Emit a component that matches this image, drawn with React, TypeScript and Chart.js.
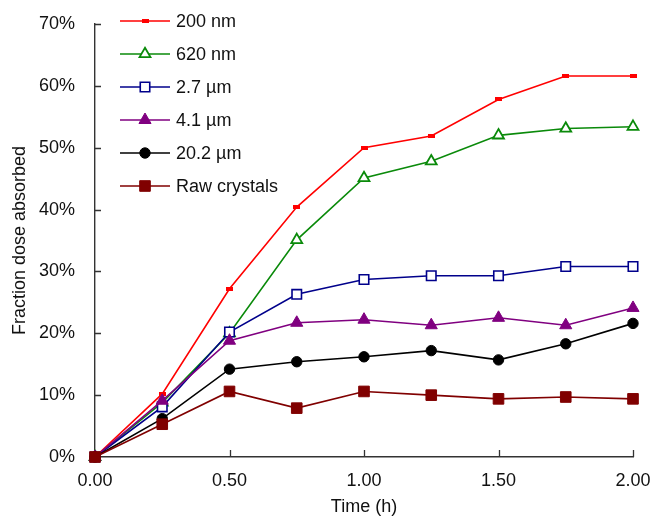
import { useEffect, useRef } from 'react';
import { Chart, registerables } from 'chart.js';
import { drawPoint } from 'chart.js/helpers';

Chart.register(...registerables);

// ---- data ----
const times = [0, 0.25, 0.5, 0.75, 1.0, 1.25, 1.5, 1.75, 2.0];
const seriesNames = ['200 nm', '620 nm', '2.7 µm', '4.1 µm', '20.2 µm', 'Raw crystals'];
const nm200 = [0, 10.2, 27.2, 40.4, 50.0, 51.9, 57.8, 61.6, 61.6];
const nm620 = [0, 8.8, 20.0, 35.1, 45.1, 47.8, 52.0, 53.1, 53.4];
const um2_7 = [0, 8.1, 20.2, 26.3, 28.7, 29.3, 29.3, 30.8, 30.8];
const um4_1 = [0, 9.1, 18.8, 21.7, 22.2, 21.3, 22.5, 21.3, 24.1];
const um20_2 = [0, 6.2, 14.2, 15.4, 16.2, 17.2, 15.7, 18.3, 21.6];
const rawCrystals = [0, 5.3, 10.6, 7.9, 10.6, 10.0, 9.4, 9.7, 9.4];
const seriesValues = [nm200, nm620, um2_7, um4_1, um20_2, rawCrystals];
const xTickValues = [0, 0.5, 1.0, 1.5, 2.0];
const yTickValues = [0, 10, 20, 30, 40, 50, 60, 70];

const FONT = '"Liberation Sans", Arial, Helvetica, sans-serif';

function makeDash(color: string) {
  const c = document.createElement('canvas');
  c.width = 7;
  c.height = 4;
  const g = c.getContext('2d')!;
  g.fillStyle = color;
  g.fillRect(0, 0, 7, 4);
  return c;
}

const tickMarks = {
  id: 'tickMarks',
  beforeDatasetsDraw(chart: any) {
    const { ctx, chartArea: a, scales } = chart;
    ctx.save();
    ctx.strokeStyle = '#333';
    ctx.lineWidth = 1.3;
    ctx.beginPath();
    scales.x.ticks.forEach((t: any) => {
      const px = Math.round(scales.x.getPixelForValue(t.value)) + 0.5;
      ctx.moveTo(px, a.bottom);
      ctx.lineTo(px, a.bottom - 7);
    });
    scales.y.ticks.forEach((t: any) => {
      const py = Math.round(scales.y.getPixelForValue(t.value)) + 0.5;
      ctx.moveTo(a.left, py);
      ctx.lineTo(a.left + 6, py);
    });
    ctx.stroke();
    ctx.restore();
  },
};

const insideLegend = {
  id: 'insideLegend',
  afterDraw(chart: any) {
    const { ctx, chartArea: a } = chart;
    chart.data.datasets.forEach((ds: any, i: number) => {
      const y = 21 + i * 33;
      const x0 = a.left + 25;
      ctx.save();
      ctx.strokeStyle = ds.borderColor;
      ctx.lineWidth = ds.borderWidth;
      ctx.beginPath();
      ctx.moveTo(x0, y);
      ctx.lineTo(x0 + 50, y);
      ctx.stroke();
      ctx.fillStyle = ds.pointBackgroundColor;
      ctx.strokeStyle = ds.pointBorderColor;
      ctx.lineWidth = ds.pointBorderWidth;
      drawPoint(
        ctx,
        { pointStyle: ds.pointStyle, radius: ds.pointRadius, borderWidth: ds.pointBorderWidth, rotation: 0 } as any,
        x0 + 25,
        y
      );
      ctx.fillStyle = '#111';
      ctx.font = `18px ${FONT}`;
      ctx.textBaseline = 'middle';
      ctx.textAlign = 'left';
      ctx.fillText(ds.label, x0 + 56, y + 1);
      ctx.restore();
    });
  },
};

export default function App() {
  const ref = useRef<HTMLCanvasElement>(null);

  useEffect(() => {
    document.body.style.margin = '0';
    const dash = makeDash('#ff0000');
    const styles = [
      { color: '#ff0000', pointStyle: dash, radius: 4, fill: '#ff0000', bw: 0 },
      { color: '#0a8a0a', pointStyle: 'triangle', radius: 6.3, fill: '#ffffff', bw: 1.8 },
      { color: '#00008b', pointStyle: 'rect', radius: 6.7, fill: '#ffffff', bw: 1.6 },
      { color: '#800080', pointStyle: 'triangle', radius: 7, fill: '#800080', bw: 1 },
      { color: '#000000', pointStyle: 'circle', radius: 5.2, fill: '#000000', bw: 1 },
      { color: '#800000', pointStyle: 'rect', radius: 7.5, fill: '#800000', bw: 1 },
    ];
    const datasets = seriesValues.map((vals, i) => ({
      label: seriesNames[i],
      data: times.map((t, j) => ({ x: t, y: vals[j] })),
      borderColor: styles[i].color,
      borderWidth: 1.6,
      pointStyle: styles[i].pointStyle as any,
      pointRadius: styles[i].radius,
      pointBackgroundColor: styles[i].fill,
      pointBorderColor: styles[i].color,
      pointBorderWidth: styles[i].bw,
      tension: 0,
      fill: false,
      clip: false as any,
      order: seriesValues.length - 1 - i,
    }));

    const chart = new Chart(ref.current!, {
      type: 'line',
      data: { datasets },
      options: {
        animation: false,
        responsive: false,
        devicePixelRatio: 1,
        layout: { padding: { left: 0, right: 17, top: 24, bottom: 0 } },
        plugins: { legend: { display: false }, tooltip: { enabled: false } },
        scales: {
          x: {
            type: 'linear',
            min: 0,
            max: 2,
            afterBuildTicks: (s: any) => {
              s.ticks = xTickValues.map((v) => ({ value: v }));
            },
            afterFit: (s: any) => {
              s.height = 61;
              s.paddingRight = 0;
              s.paddingLeft = 0;
            },
            grid: { display: false },
            border: { display: true, color: '#333', width: 1.4 },
            ticks: {
              padding: 5,
              color: '#111',
              font: { family: FONT, size: 18 },
              callback: (v: any) => Number(v).toFixed(2),
              maxRotation: 0,
            },
            title: {
              display: true,
              text: 'Time (h)',
              color: '#111',
              font: { family: FONT, size: 18 },
              padding: { top: 0, bottom: 0 },
            },
          },
          y: {
            type: 'linear',
            min: 0,
            max: 70,
            afterBuildTicks: (s: any) => {
              s.ticks = yTickValues.map((v) => ({ value: v }));
            },
            afterFit: (s: any) => {
              s.width = 95;
              s.paddingTop = 0;
              s.paddingBottom = 0;
            },
            grid: { display: false },
            border: { display: true, color: '#333', width: 1.4 },
            ticks: {
              padding: 12,
              color: '#111',
              font: { family: FONT, size: 18 },
              callback: (v: any) => `${v}%`,
            },
            title: {
              display: true,
              text: 'Fraction dose absorbed',
              color: '#111',
              font: { family: FONT, size: 18 },
              padding: { top: 9, bottom: 0 },
            },
          },
        },
      },
      plugins: [tickMarks, insideLegend],
    });
    return () => chart.destroy();
  }, []);

  return (
    <div style={{ width: 650, height: 518 }}>
      <canvas ref={ref} width={650} height={518} style={{ display: 'block' }} />
    </div>
  );
}
